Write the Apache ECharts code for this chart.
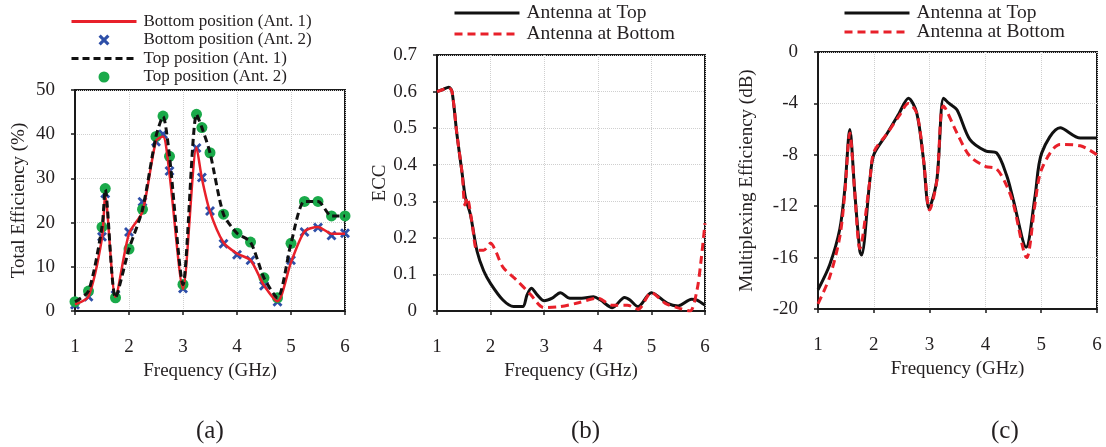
<!DOCTYPE html>
<html>
<head>
<meta charset="utf-8">
<script src="https://cdn.jsdelivr.net/npm/echarts@6/dist/echarts.min.js"></script>
<style>
  html, body { margin: 0; padding: 0; background: #fff; }
  #chart { width: 1106px; height: 447px; }
</style>
</head>
<body>
<div id="chart"></div>
<script>
// (a) total efficiency, sampled every ~0.25 GHz
const effFreq = [1, 1.25, 1.5, 1.56, 1.75, 2, 2.25, 2.5, 2.63, 2.75, 3, 3.25, 3.35, 3.5, 3.75, 4, 4.25, 4.5, 4.75, 5, 5.25, 5.5, 5.75, 6];
const bottomAnt1 = [1.5, 3.3, 16.5, 26, 3.2, 17.5, 22.5, 38.5, 39.5, 31, 5, 37, 30, 22.5, 15.5, 13, 11.5, 5.8, 2.2, 11, 18, 19, 17.5, 17.5];
const bottomAnt2 = [1.4, 3.2, 16.8, 26.6, 3.6, 17.9, 24.7, 38.3, 40, 31.7, 5.1, 36.9, 30.2, 22.6, 15.2, 12.7, 11.5, 5.7, 2.1, 11.5, 17.9, 18.9, 17.1, 17.6];
const topAnt1 = [2.1, 4.5, 19, 27.5, 3, 14, 23, 39.5, 44, 35, 6, 44.5, 41.5, 35.8, 21.9, 17.6, 15.6, 7.5, 3, 15.3, 24.8, 24.8, 21.5, 21.5];
const topAnt2 = [2.1, 4.5, 19, 27.7, 3, 14, 23, 39.5, 44.1, 35, 6, 44.5, 41.5, 35.8, 21.9, 17.6, 15.6, 7.5, 3, 15.3, 24.8, 24.8, 21.5, 21.5];

// (b) ECC
const eccTopFreq = [1, 1.1, 1.22, 1.28, 1.37, 1.47, 1.53, 1.62, 1.75, 1.87, 2.0, 2.23, 2.43, 2.6, 2.68, 2.76, 2.87, 3.0, 3.15, 3.3, 3.48, 3.7, 3.92, 4.05, 4.27, 4.5, 4.6, 4.75, 5.0, 5.3, 5.5, 5.75, 5.85, 6.0];
const eccTop = [0.6, 0.605, 0.612, 0.6, 0.485, 0.375, 0.31, 0.266, 0.162, 0.11, 0.075, 0.03, 0.012, 0.012, 0.044, 0.062, 0.044, 0.028, 0.035, 0.05, 0.035, 0.035, 0.039, 0.03, 0.009, 0.037, 0.03, 0.012, 0.05, 0.021, 0.014, 0.032, 0.03, 0.016];
const eccBottomFreq = [1, 1.1, 1.22, 1.28, 1.37, 1.47, 1.52, 1.56, 1.65, 1.75, 1.87, 2.0, 2.1, 2.23, 2.48, 2.73, 3.0, 3.3, 3.6, 4.0, 4.27, 4.55, 4.75, 5.0, 5.26, 5.53, 5.72, 5.85, 5.92, 6.0];
const eccBottom = [0.6, 0.605, 0.61, 0.6, 0.485, 0.375, 0.29, 0.31, 0.245, 0.166, 0.166, 0.185, 0.162, 0.12, 0.085, 0.048, 0.009, 0.012, 0.021, 0.035, 0.016, 0.016, 0.005, 0.05, 0.021, 0.007, 0.0, 0.057, 0.13, 0.24];

// (c) multiplexing efficiency
const muxTopFreq = [1, 1.21, 1.39, 1.48, 1.57, 1.66, 1.75, 1.78, 1.93, 2.0, 2.23, 2.45, 2.62, 2.77, 2.89, 2.99, 3.13, 3.25, 3.35, 3.49, 3.72, 4.0, 4.2, 4.38, 4.5, 4.73, 4.89, 5.01, 5.34, 5.7, 6.0];
const muxTop = [-18.5, -16.55, -13.8, -10.7, -6.04, -11, -15.5, -15.8, -9.95, -8.0, -6.4, -4.8, -3.6, -4.75, -8.35, -12.15, -9.95, -3.6, -4.0, -4.5, -6.8, -7.7, -7.85, -9.6, -11.5, -15.2, -11.2, -7.85, -5.9, -6.7, -6.7];
const muxBottomFreq = [1, 1.21, 1.39, 1.48, 1.57, 1.66, 1.75, 1.93, 2.0, 2.23, 2.45, 2.62, 2.77, 2.89, 3.0, 3.13, 3.25, 3.49, 3.72, 4.0, 4.2, 4.38, 4.5, 4.74, 4.89, 5.01, 5.34, 5.7, 6.0];
const muxBottom = [-19.6, -17.5, -14.4, -11, -6.3, -11, -15.3, -10, -7.8, -6.4, -5.0, -4.0, -4.75, -8.35, -12.3, -10, -4.2, -6.3, -8.1, -8.9, -9.1, -10.4, -11.8, -16.0, -11.8, -9.1, -7.2, -7.3, -8.0];

const font = 'Liberation Serif';
const ink = '#231f20';
const red = '#e8202a';
const blue = '#2e4fa8';
const green = '#1aaa4a';
const crossPath = 'path://M2,0 L5,3 L8,0 L10,2 L7,5 L10,8 L8,10 L5,7 L2,10 L0,8 L3,5 L0,2 Z';

const pairs = (xs, ys) => xs.map((x, i) => [x, ys[i]]);

const grids = [
  {left: 75, top: 90, width: 270, height: 221},
  {left: 437, top: 55, width: 268, height: 256},
  {left: 818, top: 52, width: 279, height: 257}
].map(g => Object.assign(g, {show: true, borderColor: '#1a1a1a', borderWidth: 2, backgroundColor: 'transparent'}));

const splitLine = {show: true, lineStyle: {color: '#cfcfcf', type: 'dotted', width: 1}};
const axisLine = {show: true, onZero: false, lineStyle: {color: '#1a1a1a', width: 2}};
const axisTick = {show: true, length: 4, lineStyle: {color: '#1a1a1a', width: 1.5}};

const xAxes = [0, 1, 2].map(i => ({
  type: 'value', gridIndex: i, min: 1, max: 6, interval: 1,
  name: 'Frequency (GHz)', nameLocation: 'middle', nameGap: 51,
  nameTextStyle: {fontFamily: font, fontSize: 19, color: ink},
  axisLine, axisTick, splitLine,
  axisLabel: {fontFamily: font, fontSize: 19, color: ink, margin: 27}
}));

const yAxes = [
  {gridIndex: 0, min: 0, max: 50, interval: 10, name: 'Total Efficiency (%)', nameGap: 46},
  {gridIndex: 1, min: 0, max: 0.7, interval: 0.1, name: 'ECC', nameGap: 46},
  {gridIndex: 2, min: -20, max: 0, interval: 4, name: 'Multiplexing Efficiency (dB)', nameGap: 61}
].map(a => Object.assign(a, {
  type: 'value', nameLocation: 'middle',
  nameTextStyle: {fontFamily: font, fontSize: 19, color: ink},
  axisLine, axisTick, splitLine,
  axisLabel: {fontFamily: font, fontSize: 19, color: ink, margin: 20}
}));

const legendText = size => ({fontFamily: font, fontSize: size, color: ink, lineHeight: size, padding: [0, 0, 0, 2]});
const noDot = {opacity: 0};
const thickLine = {width: 3};

const option = {
  animation: false,
  backgroundColor: '#fff',
  title: [
    {text: '(a)', left: 191, top: 414},
    {text: '(b)', left: 566, top: 414},
    {text: '(c)', left: 986, top: 414}
  ].map(t => Object.assign(t, {textStyle: {fontFamily: font, fontSize: 25, fontWeight: 'normal', color: ink}})),
  legend: [
    {
      left: 70, top: 13, padding: 0, orient: 'vertical', itemWidth: 65, itemHeight: 11, itemGap: 1.5,
      textStyle: legendText(17),
      data: [
        {name: 'Bottom position (Ant. 1)', itemStyle: noDot, lineStyle: thickLine},
        {name: 'Bottom position (Ant. 2)', icon: crossPath},
        {name: 'Top position (Ant. 1)', itemStyle: noDot, lineStyle: thickLine},
        {name: 'Top position (Ant. 2)', icon: 'circle'}
      ]
    },
    {
      left: 453, top: 3, padding: 0, orient: 'vertical', itemWidth: 65, itemHeight: 12, itemGap: 1,
      textStyle: legendText(19.5), itemStyle: noDot, lineStyle: thickLine,
      data: ['Antenna at Top', 'Antenna at Bottom']
    },
    {
      left: 843, top: 3, padding: 0, orient: 'vertical', itemWidth: 65, itemHeight: 12, itemGap: -1,
      textStyle: legendText(19.5), itemStyle: noDot, lineStyle: thickLine,
      data: ['Antenna at Top', 'Antenna at Bottom']
    }
  ],
  grid: grids,
  xAxis: xAxes,
  yAxis: yAxes,
  series: [
    {
      name: 'Bottom position (Ant. 1)', type: 'line', xAxisIndex: 0, yAxisIndex: 0,
      data: pairs(effFreq, bottomAnt1), smooth: 0.25, symbol: 'none',
      lineStyle: {color: red, width: 2.5}, itemStyle: {color: red}
    },
    {
      name: 'Bottom position (Ant. 2)', type: 'scatter', xAxisIndex: 0, yAxisIndex: 0,
      data: pairs(effFreq, bottomAnt2), symbol: crossPath, symbolSize: 10,
      itemStyle: {color: blue, opacity: 1}
    },
    {
      name: 'Top position (Ant. 1)', type: 'line', xAxisIndex: 0, yAxisIndex: 0,
      data: pairs(effFreq, topAnt1), smooth: 0.25, symbol: 'none',
      lineStyle: {color: '#111', width: 3, type: [7, 4]}, itemStyle: {color: '#111'}
    },
    {
      name: 'Top position (Ant. 2)', type: 'scatter', xAxisIndex: 0, yAxisIndex: 0,
      data: pairs(effFreq, topAnt2), symbol: 'circle', symbolSize: 11,
      itemStyle: {color: green, opacity: 1}
    },
    {
      name: 'Antenna at Top', type: 'line', xAxisIndex: 1, yAxisIndex: 1,
      data: pairs(eccTopFreq, eccTop), smooth: 0.3, symbol: 'none',
      lineStyle: {color: '#111', width: 3}, itemStyle: {color: '#111'}
    },
    {
      name: 'Antenna at Bottom', type: 'line', xAxisIndex: 1, yAxisIndex: 1,
      data: pairs(eccBottomFreq, eccBottom), smooth: 0.3, symbol: 'none',
      lineStyle: {color: red, width: 3, type: [8, 5]}, itemStyle: {color: red}
    },
    {
      name: 'Antenna at Top', type: 'line', xAxisIndex: 2, yAxisIndex: 2,
      data: pairs(muxTopFreq, muxTop), smooth: 0.3, symbol: 'none',
      lineStyle: {color: '#111', width: 3}, itemStyle: {color: '#111'}
    },
    {
      name: 'Antenna at Bottom', type: 'line', xAxisIndex: 2, yAxisIndex: 2,
      data: pairs(muxBottomFreq, muxBottom), smooth: 0.3, symbol: 'none',
      lineStyle: {color: red, width: 3, type: [8, 5]}, itemStyle: {color: red}
    }
  ]
};

const myChart = echarts.init(document.getElementById('chart'), null, {renderer: 'canvas'});
myChart.setOption(option);
</script>
</body>
</html>
